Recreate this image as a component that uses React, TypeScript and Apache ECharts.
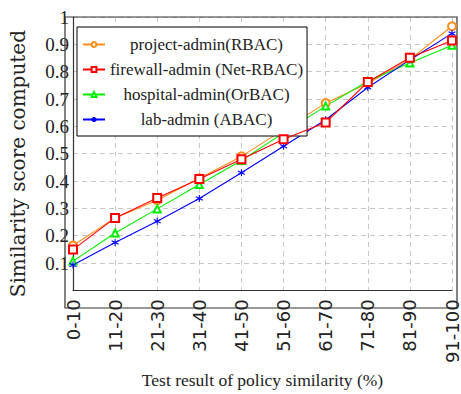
import React, { useEffect, useRef } from "react";
import * as echarts from "echarts";

const categories = ["0-10", "11-20", "21-30", "31-40", "41-50", "51-60", "61-70", "71-80", "81-90", "91-100"];
const seriesNames = ["project-admin(RBAC)", "firewall-admin (Net-RBAC)", "hospital-admin(OrBAC)", "lab-admin (ABAC)"];
const projectAdmin = [0.164, 0.265, 0.33, 0.41, 0.49, 0.588, 0.685, 0.757, 0.845, 0.966];
const firewallAdmin = [0.149, 0.265, 0.338, 0.407, 0.48, 0.553, 0.614, 0.762, 0.851, 0.914];
const hospitalAdmin = [0.107, 0.21, 0.298, 0.387, 0.475, 0.576, 0.674, 0.765, 0.832, 0.897];
const labAdmin = [0.093, 0.175, 0.253, 0.336, 0.43, 0.527, 0.624, 0.742, 0.843, 0.94];
const yTicks = [0, 0.1, 0.2, 0.3, 0.4, 0.5, 0.6, 0.7, 0.8, 0.9, 1];

const colors = ["#ff8c1a", "#ff0000", "#00ee00", "#0000ff"];
const symbols = [
  "emptyCircle",
  "emptyRect",
  "emptyTriangle",
  "path://M10 0 L10 20 M1.3 5 L18.7 15 M1.3 15 L18.7 5",
];
const symbolSizes = [8, 8, 7, 7];

const SERIF = "Liberation Serif, serif";

export default function App() {
  const ref = useRef<HTMLDivElement>(null);
  useEffect(() => {
    const chart = echarts.init(ref.current!, null, { renderer: "svg" });
    const data = [projectAdmin, firewallAdmin, hospitalAdmin, labAdmin];
    chart.setOption({
      animation: false,
      grid: { left: 65, top: 17, right: 4, bottom: 86, containLabel: false },
      legend: {
        left: 77,
        top: 27,
        orient: "vertical",
        itemGap: 8,
        itemWidth: 22,
        itemHeight: 6,
        padding: [9, 4, 8, 5],
        borderColor: "#000",
        borderWidth: 1,
        backgroundColor: "#fff",
        borderRadius: 0,
        data: seriesNames,
        formatter: (n: string) => `{c|${n}}`,
        textStyle: {
          fontFamily: SERIF,
          fontSize: 17,
          lineHeight: 17,
          rich: {
            c: { fontFamily: SERIF, fontSize: 17, color: "#222", width: 193, align: "center", lineHeight: 17 },
          },
        },
      },
      xAxis: {
        type: "category",
        data: categories,
        boundaryGap: false,
        name: "Test result of policy similarity (%)",
        nameLocation: "middle",
        nameGap: 68,
        nameTextStyle: { fontFamily: SERIF, fontSize: 17.5, color: "#222" },
        axisLine: { lineStyle: { color: "#333", width: 1.2 } },
        axisTick: { show: false },
        axisLabel: {
          rotate: 90,
          fontFamily: "DejaVu Sans, sans-serif",
          fontSize: 18,
          color: "#222",
          margin: 9,
          interval: 0,
        },
        splitLine: { show: true, lineStyle: { color: "#c8c8c8", type: [5, 4] } },
      },
      yAxis: {
        type: "value",
        min: yTicks[0],
        max: yTicks[yTicks.length - 1],
        interval: 0.1,
        name: "Similarity score computed",
        nameLocation: "middle",
        nameGap: 45,
        nameTextStyle: {
          fontFamily: "DejaVu Serif, serif",
          fontSize: 20,
          color: "#222",
          padding: [0, 20, 0, 0],
        },
        axisLine: { show: true, lineStyle: { color: "#333", width: 1.2 } },
        axisTick: { show: false },
        axisLabel: {
          fontFamily: SERIF,
          fontSize: 19,
          color: "#222",
          margin: 4,
          showMinLabel: false,
          formatter: (v: number) => (v === 1 ? "1" : String(Math.round(v * 10) / 10)),
        },
        splitLine: { show: true, lineStyle: { color: "#c8c8c8", type: [5, 4] } },
      },
      graphic: [
        {
          type: "rect",
          shape: { x: 65, y: 17, width: 392, height: 291 },
          style: { fill: "none", stroke: "#333", lineWidth: 1.2 },
          silent: true,
          z: 1,
        },
      ],
      series: data.map((d, i) => ({
        name: seriesNames[i],
        type: "line",
        data: d,
        symbol: symbols[i],
        symbolSize: symbolSizes[i],
        color: colors[i],
        lineStyle: { width: 1.1, color: colors[i] },
        itemStyle: { color: colors[i], borderColor: colors[i], borderWidth: 1.1 },
        z: 3 + (i === 1 ? 1 : 0),
      })),
    });
    return () => chart.dispose();
  }, []);
  return <div ref={ref} style={{ width: 461, height: 394, position: "absolute", left: 0, top: 0 }} />;
}
